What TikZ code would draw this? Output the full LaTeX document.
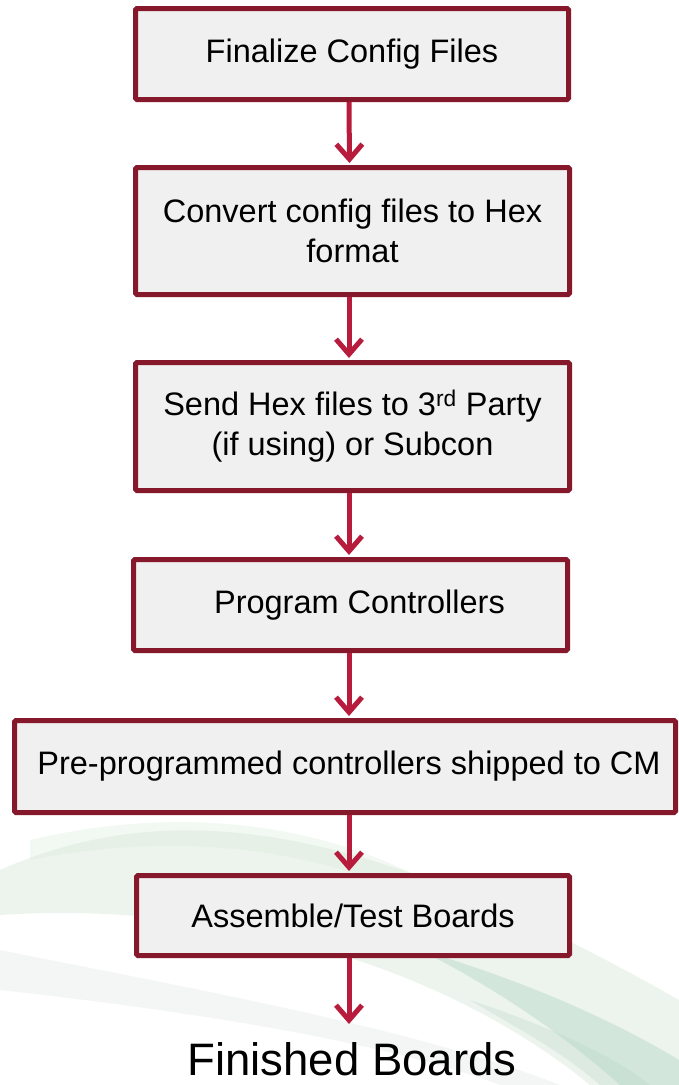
\documentclass[tikz,border=0pt]{standalone}
\usepackage{fontspec}
\setmainfont{Liberation Sans}
\usetikzlibrary{arrows.meta}
\definecolor{boxborder}{HTML}{85182B}
\definecolor{boxfill}{HTML}{F0F0F0}
\definecolor{arrowred}{HTML}{B71C3C}
\definecolor{leafgreen}{HTML}{DCEBDC}
\definecolor{leafteal}{HTML}{B5D6C6}
\definecolor{leafgray}{HTML}{E8ECEA}
\tikzset{
  stepbox/.style={draw=boxborder, line width=5pt, fill=boxfill, rounded corners=1.5pt,
    inner sep=0pt, align=center, font=\fontsize{32.5}{40}\selectfont, text=black},
  flowarrow/.style={draw=arrowred, line width=5pt,
    -{Straight Barb[length=15pt, width=26pt, line width=5pt]}, shorten >=2pt},
}
\begin{document}
\begin{tikzpicture}[x=1pt, y=-1pt]
\useasboundingbox (0,0) rectangle (679,1085);
\fill[white] (0,0) rectangle (679,1085);
% faint background swoosh
\fill[leafgreen, opacity=0.5] (0,870) .. controls (180,790) and (380,830) .. (679,1000)
  -- (679,1085) -- (590,1085) .. controls (450,970) and (230,900) .. (0,915) -- cycle;
\fill[leafgreen, opacity=0.35] (30,840) .. controls (200,800) and (350,830) .. (460,900)
  -- (420,900) .. controls (320,850) and (180,830) .. (30,860) -- cycle;
\fill[leafgray, opacity=0.45] (0,950) .. controls (200,990) and (420,1030) .. (560,1085)
  -- (500,1085) .. controls (380,1040) and (180,1010) .. (0,990) -- cycle;
\fill[leafteal, opacity=0.45] (420,950) .. controls (540,985) and (630,1030) .. (679,1060)
  -- (679,1085) -- (620,1085) .. controls (570,1040) and (500,990) .. (420,950) -- cycle;
\fill[leafteal, opacity=0.3] (470,1000) .. controls (560,1030) and (620,1060) .. (650,1085)
  -- (600,1085) .. controls (560,1050) and (520,1030) .. (470,1000) -- cycle;

\node[stepbox, minimum width=433pt, minimum height=91pt] (b1) at (352,54) {Finalize Config Files};
\node[stepbox, minimum width=434pt, minimum height=127pt] (b2) at (352.5,231) {Convert config files to Hex\\format};
\node[stepbox, minimum width=434pt, minimum height=128pt] (b3) at (352.5,426.5) {Send Hex files to 3\textsuperscript{rd} Party\\(if using) or Subcon};
\node[stepbox, minimum width=434pt, minimum height=91pt] (b4) at (350.5,605) {\hspace*{18pt}Program Controllers};
\node[stepbox, minimum width=661pt, minimum height=92pt] (b5) at (345,766.5) {\hspace*{8pt}Pre-programmed controllers shipped to CM};
\node[stepbox, minimum width=433pt, minimum height=80pt] (b6) at (353,915.5) {Assemble/Test Boards};
\coordinate (end) at (349,1024);
\node[anchor=base, font=\fontsize{45.5}{50}\selectfont, inner sep=0pt] (fin) at (352,1075) {Finished Boards};

\draw[flowarrow] ([xshift=-3pt]b1.south) -- ([xshift=-3pt]b2.north);
\draw[flowarrow] ([xshift=-3.5pt]b2.south) -- ([xshift=-3.5pt]b3.north);
\draw[flowarrow] ([xshift=-3.5pt]b3.south) -- ([xshift=-1.5pt]b4.north);
\draw[flowarrow] ([xshift=-1.5pt]b4.south) -- ([xshift=4pt]b5.north);
\draw[flowarrow] ([xshift=4pt]b5.south) -- ([xshift=-4pt]b6.north);
\draw[flowarrow, shorten >=0pt] ([xshift=-4pt]b6.south) -- (end);
\end{tikzpicture}
\end{document}
